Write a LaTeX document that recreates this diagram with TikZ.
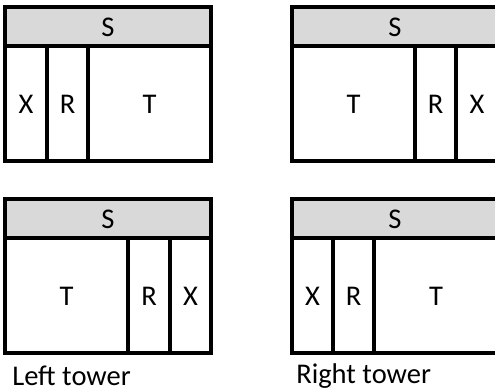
\documentclass[tikz,border=0pt]{standalone}
\usepackage{fontspec}
\setmainfont{Carlito}
\begin{document}
\begin{tikzpicture}[x=0.75pt,y=-0.75pt,
  frame/.style={draw=black,line width=2.3pt},
  band/.style={fill=bandgray},
  lbl/.style={font=\fontsize{21.4}{25}\selectfont,inner sep=0pt},
  captxt/.style={font=\fontsize{21.4}{25}\selectfont,inner sep=0pt,anchor=west}]
\definecolor{bandgray}{HTML}{D9D9D9}
\useasboundingbox (0,0) rectangle (495,390);
% ---------- top left ----------
\fill[band] (5,7) rectangle (211,46);
\draw[frame] (5,7) rectangle (211,161);
\draw[frame] (5,46) -- (211,46);
\draw[frame] (47,46) -- (47,161);
\draw[frame] (88,46) -- (88,161);
\node[lbl] (s1) at (108,27) {S};
\node[lbl] (x1) at (26,104) {X};
\node[lbl] (r1) at (67.5,104) {R};
\node[lbl] (t1) at (149.5,104) {T};
% ---------- top right ----------
\fill[band] (292,7) rectangle (498,46);
\draw[frame] (292,7) rectangle (498,161);
\draw[frame] (292,46) -- (498,46);
\draw[frame] (415,46) -- (415,161);
\draw[frame] (456,46) -- (456,161);
\node[lbl] (s2) at (395,27) {S};
\node[lbl] (t2) at (353.5,104) {T};
\node[lbl] (r2) at (435.5,104) {R};
\node[lbl] (x2) at (477,104) {X};
% ---------- bottom left ----------
\fill[band] (5,199) rectangle (211,238);
\draw[frame] (5,199) rectangle (211,353);
\draw[frame] (5,238) -- (211,238);
\draw[frame] (128,238) -- (128,353);
\draw[frame] (170,238) -- (170,353);
\node[lbl] (s3) at (108,219) {S};
\node[lbl] (t3) at (66.5,296) {T};
\node[lbl] (r3) at (149,296) {R};
\node[lbl] (x3) at (190.5,296) {X};
\node[captxt] (c3) at (12,376) {Left tower};
% ---------- bottom right ----------
\fill[band] (292,199) rectangle (498,238);
\draw[frame] (292,199) rectangle (498,353);
\draw[frame] (292,238) -- (498,238);
\draw[frame] (333,238) -- (333,353);
\draw[frame] (374,238) -- (374,353);
\node[lbl] (s4) at (395,219) {S};
\node[lbl] (x4) at (312.5,296) {X};
\node[lbl] (r4) at (353.5,296) {R};
\node[lbl] (t4) at (436,296) {T};
\node[captxt] (c4) at (296,376) {Right tower};
\end{tikzpicture}
\end{document}
